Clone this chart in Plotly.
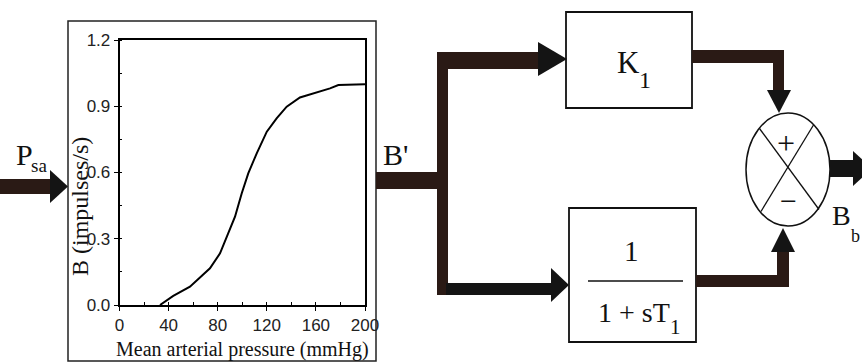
import plotly.graph_objects as go

# ---- data of the embedded chart ----
pressure = [33.0, 43.8, 57.4, 73.7, 81.9, 87.3, 94.1, 99.6, 104.9, 111.8, 120.0,
            128.0, 136.2, 147.0, 160.6, 171.5, 178.3, 198.6, 200.0]
activity = [0.0, 0.041, 0.083, 0.166, 0.234, 0.309, 0.400, 0.506, 0.596, 0.687, 0.785,
            0.845, 0.898, 0.940, 0.961, 0.981, 0.996, 1.0, 1.0]
x_ticks = [0, 40, 80, 120, 160, 200]
y_ticks = [0.0, 0.3, 0.6, 0.9, 1.2]
y_tick_labels = ["0.0", "0.3", "0.6", "0.9", "1.2"]

W, H = 862, 363
SHAFT = "#2a1a15"
HEAD = "#141414"
SERIF = "Liberation Serif, Times New Roman, serif"
NARROW = "Liberation Sans Narrow, Arial Narrow, Liberation Sans, Arial, sans-serif"


def px(x):
    return x / W


def py(y):
    return 1 - y / H


shapes = []


def rect(x0, y0, x1, y1, fill=None, line_color=None, lw=0):
    shapes.append(dict(type="rect", xref="paper", yref="paper",
                       x0=px(x0), x1=px(x1), y0=py(y1), y1=py(y0),
                       fillcolor=fill if fill else "rgba(0,0,0,0)",
                       line=dict(color=line_color if line_color else "rgba(0,0,0,0)", width=lw)))


def poly(points, fill):
    d = "M " + " L ".join(f"{px(x):.5f},{py(y):.5f}" for x, y in points) + " Z"
    shapes.append(dict(type="path", xref="paper", yref="paper", path=d,
                       fillcolor=fill, line=dict(width=0)))


def seg(x0, y0, x1, y1, lw=1.5, color="#111"):
    shapes.append(dict(type="line", xref="paper", yref="paper",
                       x0=px(x0), y0=py(y0), x1=px(x1), y1=py(y1),
                       line=dict(color=color, width=lw)))


# outer panel around the chart
rect(68, 21, 376, 361, line_color="#222", lw=1.5)

# input arrow P_sa
rect(0, 179, 52, 194, fill=SHAFT)
poly([(50, 170), (68, 186.5), (50, 203)], HEAD)

# B' line and branches
rect(376, 172, 448, 189, fill=SHAFT)
rect(437, 52, 448, 295, fill=SHAFT)
rect(437, 52, 540, 69, fill=SHAFT)
poly([(538, 42), (567, 59), (538, 76)], HEAD)
rect(446, 283, 553, 295, fill=HEAD)
poly([(551, 268), (569, 285), (551, 302)], HEAD)

# K1 block
rect(566, 12, 692, 108, line_color="#111", lw=1.8)
# lower block
rect(569, 208, 696, 342, line_color="#111", lw=1.8)
seg(588, 281, 683, 281, lw=1.5)

# K1 output to summing junction
rect(692, 50, 784, 63, fill=SHAFT)
rect(773, 50, 784, 92, fill=SHAFT)
poly([(767, 90), (791, 90), (779, 113)], HEAD)

# lower block output to junction
rect(696, 275, 789, 287, fill=SHAFT)
rect(777, 250, 789, 287, fill=SHAFT)
poly([(771, 252), (795, 252), (783, 228)], HEAD)

# summing junction
shapes.append(dict(type="circle", xref="paper", yref="paper",
                   x0=px(746), x1=px(830), y0=py(226), y1=py(113),
                   line=dict(color="#111", width=1.5), fillcolor="white"))
seg(759.5, 128.5, 819, 209.5, lw=1.3)
seg(813.5, 125, 761, 211.5, lw=1.3)

# output arrow
rect(830, 160, 855, 177, fill=HEAD)
poly([(853, 151), (872, 168.5), (853, 186)], HEAD)

annotations = []


def label(x, y, text, size, family=SERIF, angle=0):
    annotations.append(dict(xref="paper", yref="paper", x=px(x), y=py(y),
                            text=text, showarrow=False, textangle=angle,
                            xanchor="center", yanchor="middle",
                            font=dict(family=family, size=size, color="#111")))


label(24, 154, "P", 30)
label(39, 165, "sa", 19)
label(395, 154, "B'", 30)
label(628, 63, "K", 31)
label(645, 80, "1", 24)
label(631, 251, "1", 29)
label(634, 312, "1 + sT", 28)
label(675, 327, "1", 21)
label(786, 143, "+", 32)
label(788, 200, "−", 30)
label(841, 215, "B", 28)
label(855, 236, "b", 18)

# axis titles of the chart
label(242.5, 349, "Mean arterial pressure (mmHg)", 20)
label(80, 207, "B (impulses/s)", 24, angle=-90)

fig = go.Figure()
fig.add_trace(go.Scatter(x=pressure, y=activity, mode="lines",
                         line=dict(color="#000", width=2), showlegend=False,
                         hoverinfo="skip"))

axis_common = dict(showline=True, linecolor="#000", linewidth=1.6, mirror=True,
                   showgrid=False, zeroline=False, ticks="outside", ticklen=4,
                   tickcolor="#000", tickwidth=1.2, automargin=False,
                   tickfont=dict(family=NARROW, size=17, color="#222"))

fig.update_layout(
    width=W, height=H,
    margin=dict(l=0, r=0, t=0, b=0, pad=0, autoexpand=False),
    paper_bgcolor="white", plot_bgcolor="white",
    xaxis=dict(domain=[px(119.5), px(365)], range=[0, 200], tickvals=x_ticks,
               minor=dict(dtick=20, ticks="inside", ticklen=3, tickcolor="#000"),
               **axis_common),
    yaxis=dict(domain=[py(305), py(40)], range=[0, 1.2], tickvals=y_ticks,
               ticktext=y_tick_labels,
               minor=dict(dtick=0.15, ticks="inside", ticklen=3, tickcolor="#000"),
               **axis_common),
    shapes=shapes,
    annotations=annotations,
)

fig.write_html("out.html", config={"displayModeBar": False},
               post_script="document.body.style.margin='0';document.body.style.padding='0';document.body.style.overflow='hidden';")
